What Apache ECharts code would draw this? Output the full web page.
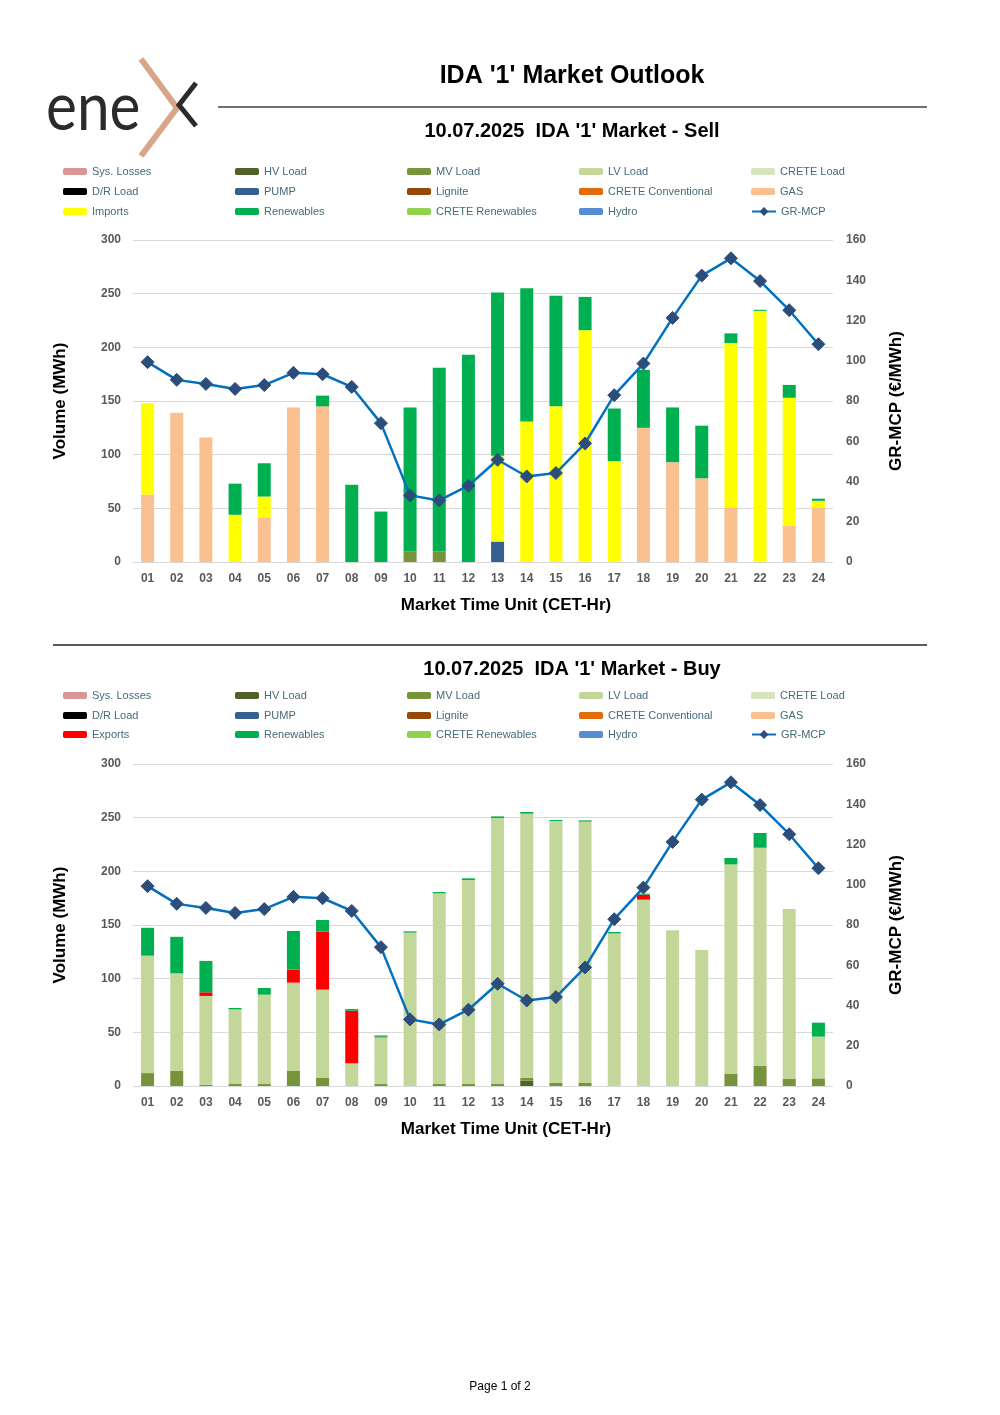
<!DOCTYPE html>
<html><head><meta charset="utf-8">
<script src="https://cdn.jsdelivr.net/npm/echarts@6/dist/echarts.min.js"></script>
<style>html,body{margin:0;padding:0;background:#fff}#c{width:1000px;height:1415px}</style>
</head><body><div id="c"></div>
<script>
const hours = ['01','02','03','04','05','06','07','08','09','10','11','12','13','14','15','16','17','18','19','20','21','22','23','24'];

// GR-MCP price (€/MWh), same for both charts
const mcp = [99.3,90.5,88.5,86.0,87.9,94.0,93.3,87.0,69.0,33.1,30.6,37.9,50.8,42.5,44.2,58.9,82.9,98.6,121.3,142.3,150.9,139.6,125.1,108.2];

// Sell side (MWh)
const sellMV      = [0,0,0,0,0,0,0,0,0,10,10,0,0,0,0,0,0,0,0,0,0,0,0,0];
const sellPump    = [0,0,0,0,0,0,0,0,0,0,0,0,19,0,0,0,0,0,0,0,0,0,0,0];
const sellGas     = [63,139,116,0,41,144,145,0,0,0,0,0,0,0,0,0,0,125,93,78,51,0,34,51];
const sellImports = [85,0,0,44,20,0,0,0,0,0,0,0,80,131,145,216,94,0,0,0,153,234,119,6];
const sellRenew   = [0,0,0,29,31,0,10,72,47,134,171,193,152,124,103,31,49,54,51,49,9,1,12,2];

// Buy side (MWh)
const buyHV      = [0,0,0,0,0,0,0,0,0,0,0,0,0,5,0,0,0,0,0,0,0,0,0,0];
const buyMV      = [12,14,1.2,1.9,1.9,14,7.5,0,1.9,0,1.9,1.9,1.9,2.5,2.8,2.8,0,0,0,0,11.2,18.9,6.8,7.1];
const buyLV      = [109.4,91,82.7,69.5,83.2,82.3,82.3,21.1,43.4,142.9,177.6,190,247.8,246.2,244.1,243.5,142.2,173.6,145,126.7,195.3,203.1,158.1,38.9];
const buyExports = [0,0,3.4,0,0,12.1,54,49.1,0.6,0,0,0,0,0,0,0,0,4.7,0,0,0,0,0,0];
const buyRenew   = [26,34,29.2,1.3,6.2,36,10.9,1.5,1.2,1.2,1.2,1.6,1.5,1.6,0.9,1.2,1.3,0.9,0,0,5.9,13.7,0,13];

const F = "'Liberation Sans', Arial, sans-serif";
const colors = {
  'Sys. Losses':'#DA9694','HV Load':'#4F6228','MV Load':'#77933C','LV Load':'#C4D79B','CRETE Load':'#D8E4BC',
  'D/R Load':'#000000','PUMP':'#366092','Lignite':'#974706','CRETE Conventional':'#E26B0A','GAS':'#FAC090',
  'Imports':'#FFFF00','Exports':'#FF0000','Renewables':'#00B050','CRETE Renewables':'#92D050','Hydro':'#558ED5'
};
const sellNames = ['Sys. Losses','HV Load','MV Load','LV Load','CRETE Load','D/R Load','PUMP','Lignite','CRETE Conventional','GAS','Imports','Renewables','CRETE Renewables','Hydro','GR-MCP'];
const buyNames  = ['Sys. Losses','HV Load','MV Load','LV Load','CRETE Load','D/R Load','PUMP','Lignite','CRETE Conventional','GAS','Exports','Renewables','CRETE Renewables','Hydro','GR-MCP'];
const sellData = {'MV Load':sellMV,'PUMP':sellPump,'GAS':sellGas,'Imports':sellImports,'Renewables':sellRenew};
const buyData  = {'HV Load':buyHV,'MV Load':buyMV,'LV Load':buyLV,'Exports':buyExports,'Renewables':buyRenew};

function makeSeries(names, data, xi, yi, stack){
  const out = [];
  names.forEach(n=>{
    if(n==='GR-MCP'){
      out.push({name:n,type:'line',xAxisIndex:xi,yAxisIndex:yi+1,data:mcp,z:5,
        symbol:'diamond',symbolSize:13,lineStyle:{width:2.5,color:'#0070C0'},
        itemStyle:{color:'#2C4D7A',borderColor:'#2C4D7A'},color:'#0070C0'});
    } else {
      out.push({name:n,type:'bar',stack:stack,xAxisIndex:xi,yAxisIndex:yi,barWidth:13,
        data:(data[n]||[]).map(v=>v===0?null:v),itemStyle:{color:colors[n]}});
    }
  });
  return out;
}
function makeLegends(names, rows){
  const cols=[63,235,407,579,751];
  return names.map((n,i)=>({data:[n],left:cols[i%5],top:rows[Math.floor(i/5)]-6,padding:0,
    itemWidth:24,itemHeight:(n==='GR-MCP'?11:7),selectedMode:false,
    textStyle:{fontSize:11,color:'#466A7A',fontFamily:F}}));
}
const axLabel = {fontSize:12,color:'#595959',fontWeight:'bold',fontFamily:F};
const nameStyle = {fontSize:17,fontWeight:'bold',color:'#000',fontFamily:F};
function xAx(gi){
  return {type:'category',gridIndex:gi,data:hours,axisLine:{show:false},axisTick:{show:false},
    axisLabel:Object.assign({margin:11},axLabel),name:'Market Time Unit (CET-Hr)',nameLocation:'middle',nameGap:35,
    nameTextStyle:Object.assign({padding:[0,0,0,46]},nameStyle)};
}
function yAxes(gi){
  return [
    {type:'value',gridIndex:gi,min:0,max:300,interval:50,axisLine:{show:false},axisTick:{show:false},
     splitLine:{lineStyle:{color:'#D9D9D9',width:1}},axisLabel:Object.assign({margin:12},axLabel),
     name:'Volume (MWh)',nameLocation:'middle',nameGap:64,nameTextStyle:nameStyle},
    {type:'value',gridIndex:gi,min:0,max:160,interval:20,position:'right',axisLine:{show:false},axisTick:{show:false},
     splitLine:{show:false},axisLabel:Object.assign({margin:13},axLabel),
     name:'GR-MCP (€/MWh)',nameLocation:'middle',nameGap:55,nameTextStyle:nameStyle}
  ];
}

const graphic = [
  {type:'text',x:46,y:108,scaleX:0.86,style:{text:'ene',fontSize:68,fontFamily:"Lato, 'Open Sans', sans-serif",fill:'#2B2B2B',verticalAlign:'middle'}},
  {type:'polyline',shape:{points:[[141,59],[177,108],[141,156]]},style:{stroke:'#D9A589',lineWidth:6,fill:null,lineJoin:'miter'}},
  {type:'polyline',shape:{points:[[196,83],[179,105],[196,126]]},style:{stroke:'#2B2B2B',lineWidth:5,fill:null}},
  {type:'text',x:572,y:76,style:{text:"IDA '1' Market Outlook",fontSize:25,fontWeight:'bold',fontFamily:F,fill:'#000',align:'center',verticalAlign:'middle'}},
  {type:'line',shape:{x1:218,y1:107,x2:927,y2:107},style:{stroke:'#404040',lineWidth:1.3}},
  {type:'text',x:572,y:131,style:{text:"10.07.2025  IDA '1' Market - Sell",fontSize:20,fontWeight:'bold',fontFamily:F,fill:'#000',align:'center',verticalAlign:'middle'}},
  {type:'line',shape:{x1:53,y1:645,x2:927,y2:645},style:{stroke:'#595959',lineWidth:2}},
  {type:'text',x:572,y:669,style:{text:"10.07.2025  IDA '1' Market - Buy",fontSize:20,fontWeight:'bold',fontFamily:F,fill:'#000',align:'center',verticalAlign:'middle'}},
  {type:'text',x:500,y:1387,style:{text:'Page 1 of 2',fontSize:12,fontFamily:F,fill:'#000',align:'center',verticalAlign:'middle'}}
];

const option = {
  backgroundColor:'#fff',
  animation:false,
  textStyle:{fontFamily:F},
  graphic:graphic,
  legend: makeLegends(sellNames,[172,192,212]).concat(makeLegends(buyNames,[696,716,735])),
  grid:[{left:133,right:167,top:240,height:322},{left:133,right:167,top:764,height:322}],
  xAxis:[xAx(0),xAx(1)],
  yAxis:yAxes(0).concat(yAxes(1)),
  series: makeSeries(sellNames,sellData,0,0,'sell').concat(makeSeries(buyNames,buyData,1,2,'buy'))
};
const chart = echarts.init(document.getElementById('c'),null,{renderer:'canvas'});
chart.setOption(option);
</script>
</body></html>
